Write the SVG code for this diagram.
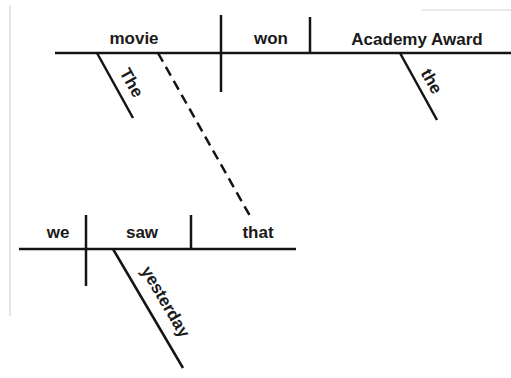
<svg xmlns="http://www.w3.org/2000/svg" width="511" height="378" viewBox="0 0 511 378">
  <style>
    .ln { stroke: #141414; stroke-width: 2.5; fill: none; stroke-linecap: butt; }
    .dash { stroke-dasharray: 10 6; }
    .edge { stroke: #d4d4d4; stroke-width: 1.2; fill: none; }
    text { font-family: "Liberation Sans", Arial, Helvetica, sans-serif; font-weight: bold; font-size: 17px; fill: #1a1a1a; text-anchor: middle; }
  </style>
  <rect width="511" height="378" fill="#ffffff"/>

  <!-- faint paper edges -->
  <g id="paper-edges">
    <line class="edge" x1="10" y1="5" x2="10" y2="316"/>
    <line class="edge" x1="422" y1="10" x2="511" y2="10"/>
  </g>

  <!-- main clause baseline and dividers -->
  <g id="main-clause">
    <line class="ln" x1="55" y1="53" x2="511" y2="53"/>
    <line class="ln" x1="221" y1="15" x2="221" y2="92"/>
    <line class="ln" x1="310" y1="17" x2="310" y2="53"/>
  </g>
  <g id="movie"><text x="134" y="44">movie</text></g>
  <g id="won"><text x="271" y="44">won</text></g>
  <g id="academy-award"><text x="417" y="45">Academy Award</text></g>

  <!-- modifier: The -->
  <g id="the-1">
    <line class="ln" x1="97" y1="53" x2="133" y2="118"/>
    <text transform="translate(132 82.5) rotate(61)" dy="0.36em">The</text>
  </g>

  <!-- modifier: the -->
  <g id="the-2">
    <line class="ln" x1="400" y1="53" x2="437" y2="120"/>
    <text transform="translate(432 81) rotate(60.3)" dy="0.36em">the</text>
  </g>

  <!-- relative clause baseline and dividers -->
  <g id="relative-clause">
    <line class="ln" x1="19" y1="249" x2="296" y2="249"/>
    <line class="ln" x1="86" y1="215" x2="86" y2="286"/>
    <line class="ln" x1="191" y1="215" x2="191" y2="249"/>
  </g>
  <g id="we"><text x="58" y="238">we</text></g>
  <g id="saw"><text x="142" y="238">saw</text></g>
  <g id="that"><text x="258" y="238">that</text></g>

  <!-- modifier: yesterday -->
  <g id="yesterday">
    <line class="ln" x1="113" y1="249" x2="183" y2="368"/>
    <text transform="translate(166 301.5) rotate(59.5)" dy="0.36em">yesterday</text>
  </g>

  <!-- connector: relative pronoun back to its antecedent -->
  <g id="connectors">
    <line class="ln dash" x1="158" y1="53" x2="250" y2="216"/>
  </g>
</svg>
